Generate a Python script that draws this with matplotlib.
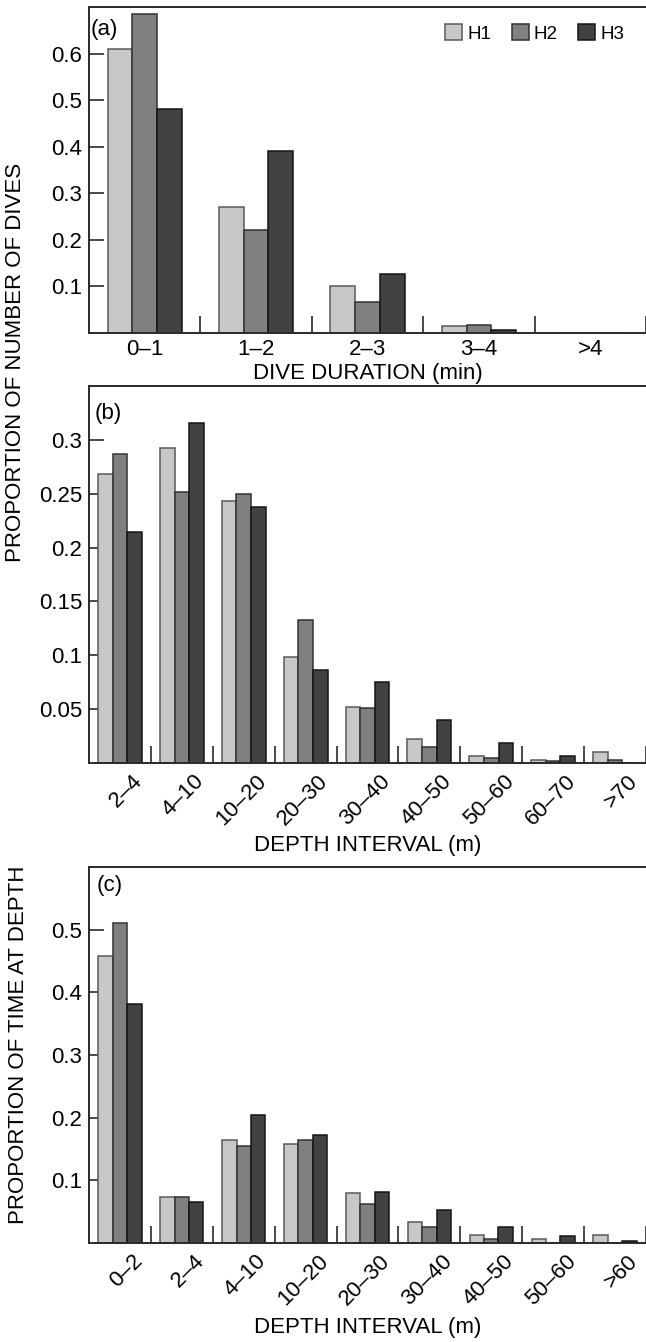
import matplotlib
matplotlib.use("Agg")
import matplotlib.pyplot as plt
import matplotlib.transforms as mtransforms
import numpy as np

plt.rcParams['font.family'] = ['Liberation Sans', 'DejaVu Sans']

series = ['H1', 'H2', 'H3']
colors = ['#c8c8c8', '#808080', '#424242']
edges = ['#5a5a5a', '#333333', '#151515']

# (a) dive duration
dur_cats = ['0\u20131', '1\u20132', '2\u20133', '3\u20134', '>4']
dur_H1 = [0.609, 0.271, 0.101, 0.014, 0.0]
dur_H2 = [0.686, 0.222, 0.067, 0.018, 0.0]
dur_H3 = [0.480, 0.390, 0.127, 0.006, 0.0]

# (b) dive depth
depth_cats = ['2\u20134', '4\u201310', '10\u201320', '20\u201330', '30\u201340',
              '40\u201350', '50\u201360', '60\u201370', '>70']
depth_H1 = [0.268, 0.292, 0.243, 0.098, 0.052, 0.022, 0.0065, 0.003, 0.010]
depth_H2 = [0.287, 0.252, 0.250, 0.133, 0.051, 0.015, 0.0048, 0.0017, 0.003]
depth_H3 = [0.214, 0.316, 0.238, 0.086, 0.075, 0.040, 0.019, 0.0065, 0.0]

# (c) time at depth
tad_cats = ['0\u20132', '2\u20134', '4\u201310', '10\u201320', '20\u201330',
            '30\u201340', '40\u201350', '50\u201360', '>60']
tad_H1 = [0.458, 0.073, 0.165, 0.158, 0.079, 0.033, 0.013, 0.006, 0.013]
tad_H2 = [0.511, 0.073, 0.155, 0.165, 0.063, 0.026, 0.006, 0.0, 0.0]
tad_H3 = [0.381, 0.066, 0.205, 0.172, 0.082, 0.053, 0.026, 0.0105, 0.003]

W, H = 646, 1342
fig = plt.figure(figsize=(W / 100, H / 100), dpi=100)
FS = 16
EDGE = '#2a2a2a'


def make_axes(top, bottom, left=89):
    return fig.add_axes([left / W, 1 - bottom / H, (W - left) / W, (bottom - top) / H])


def draw(ax, cats, vals, group_w, ylim, yticks, yticklabels, xmax, rotate):
    n = len(cats)
    x = np.arange(n)
    bw = group_w / 3
    for i, (v, c, e) in enumerate(zip(vals, colors, edges)):
        ax.bar(x + (i - 1) * bw, v, width=bw, color=c, edgecolor=e,
               linewidth=1.1, label=series[i], zorder=2)
    ax.set_xlim(-0.5, xmax)
    ax.set_ylim(*ylim)
    ax.set_yticks(yticks)
    ax.set_yticklabels(yticklabels, fontsize=FS)
    ax.set_xticks(x)
    ax.set_xticks(np.arange(n) + 0.5, minor=True)
    ax.tick_params(axis='x', which='major', length=0, pad=4)
    ax.tick_params(axis='x', which='minor', direction='in', length=12,
                   width=1.2, color=EDGE)
    ax.tick_params(axis='y', direction='in', length=11, width=1.2, color=EDGE, pad=5)
    ax.spines['right'].set_visible(False)
    for s in ['left', 'top', 'bottom']:
        ax.spines[s].set_color(EDGE)
        ax.spines[s].set_linewidth(1.4)
    if rotate:
        ax.set_xticklabels(cats, fontsize=FS, rotation=45, ha='right',
                           va='top', rotation_mode='anchor')
        off = mtransforms.ScaledTranslation(12 / 100, -2 / 100, fig.dpi_scale_trans)
        for lab in ax.get_xticklabels():
            lab.set_transform(lab.get_transform() + off)
    else:
        ax.set_xticklabels(cats, fontsize=FS)


def place_xlabel(ax, text, top, bottom, y_px):
    ax.set_xlabel(text, fontsize=FS)
    ax.xaxis.label.set_va('center')
    ax.xaxis.set_label_coords(0.5 - 0.0, (bottom - y_px) / (bottom - top))


def panel_label(ax, text, top, bottom, x_px, y_px):
    ax.text((x_px - 89) / (W - 89), (bottom - y_px) / (bottom - top), text,
            transform=ax.transAxes, fontsize=FS, va='center', ha='left')


A = (7, 333)
B = (386, 763)
C = (867, 1243)

ax1 = make_axes(*A)
draw(ax1, dur_cats, [dur_H1, dur_H2, dur_H3], 0.667, (0, 0.70),
     [0.1, 0.2, 0.3, 0.4, 0.5, 0.6], ['0.1', '0.2', '0.3', '0.4', '0.5', '0.6'],
     -0.5 + 5 * (557 / 562.5), False)
place_xlabel(ax1, 'DIVE DURATION (min)', *A, 373)
panel_label(ax1, '(a)', *A, 91, 30)
ax1.legend(loc='center right', bbox_to_anchor=((624 - 89) / 557, (333 - 33.5) / 326),
           ncol=3, frameon=False, fontsize=13.5, handlelength=0.9, handleheight=0.9,
           handletextpad=0.27, columnspacing=1.1, borderaxespad=0, borderpad=0)

ax2 = make_axes(*B)
draw(ax2, depth_cats, [depth_H1, depth_H2, depth_H3], 0.71, (0, 0.35),
     [0.05, 0.1, 0.15, 0.2, 0.25, 0.3], ['0.05', '0.1', '0.15', '0.2', '0.25', '0.3'],
     -0.5 + 9 * (557 / 562.5), True)
place_xlabel(ax2, 'DEPTH INTERVAL (m)', *B, 845)
panel_label(ax2, '(b)', *B, 95, 414)

ax3 = make_axes(*C)
draw(ax3, tad_cats, [tad_H1, tad_H2, tad_H3], 0.70, (0, 0.60),
     [0.1, 0.2, 0.3, 0.4, 0.5], ['0.1', '0.2', '0.3', '0.4', '0.5'],
     -0.5 + 9 * (557 / 562.5), True)
place_xlabel(ax3, 'DEPTH INTERVAL (m)', *C, 1328)
panel_label(ax3, '(c)', *C, 97, 886)

fig.text(16 / W, 1 - 362 / H, 'PROPORTION OF NUMBER OF DIVES', rotation=90,
         ha='center', va='center', fontsize=FS)
fig.text(19 / W, 1 - 1045 / H, 'PROPORTION OF TIME AT DEPTH', rotation=90,
         ha='center', va='center', fontsize=FS)

fig.savefig('out.png', dpi=100)
